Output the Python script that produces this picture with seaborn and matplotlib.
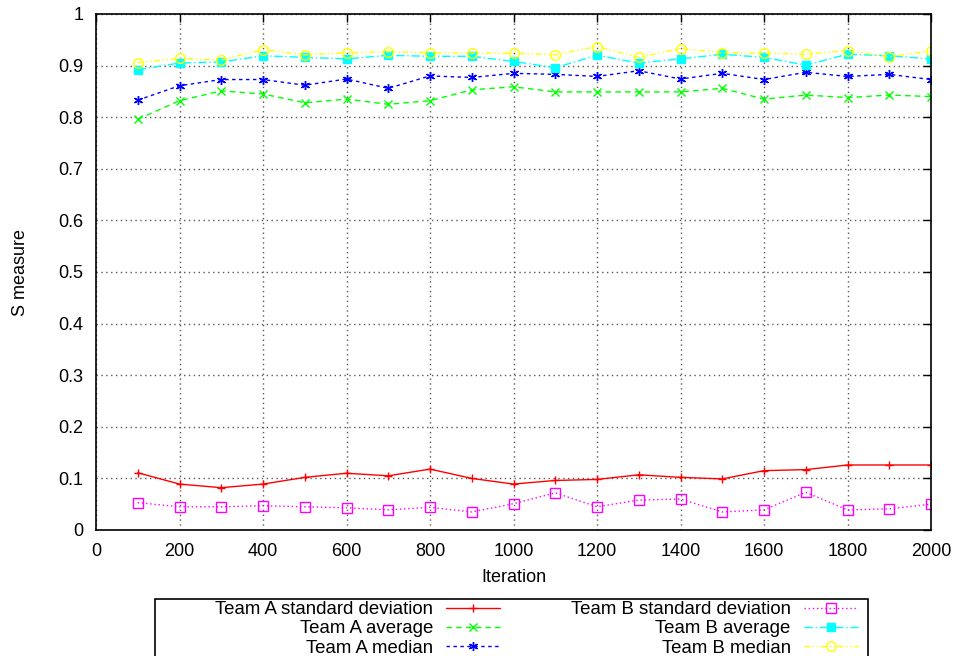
import numpy as np
import pandas as pd
import seaborn as sns
import matplotlib.pyplot as plt
from matplotlib.patches import Rectangle
from matplotlib.ticker import FuncFormatter

iterations = [100, 200, 300, 400, 500, 600, 700, 800, 900, 1000,
              1100, 1200, 1300, 1400, 1500, 1600, 1700, 1800, 1900, 2000]

a_std = [0.111, 0.089, 0.082, 0.089, 0.102, 0.110, 0.105, 0.118, 0.100, 0.089,
         0.096, 0.098, 0.107, 0.102, 0.099, 0.115, 0.117, 0.126, 0.126, 0.126]
a_avg = [0.796, 0.832, 0.851, 0.845, 0.828, 0.835, 0.825, 0.832, 0.853, 0.859,
         0.849, 0.849, 0.849, 0.849, 0.856, 0.835, 0.843, 0.838, 0.843, 0.840]
a_med = [0.833, 0.861, 0.873, 0.873, 0.862, 0.874, 0.856, 0.880, 0.877, 0.885,
         0.883, 0.879, 0.890, 0.874, 0.885, 0.873, 0.887, 0.879, 0.883, 0.873]
b_std = [0.053, 0.045, 0.045, 0.047, 0.045, 0.043, 0.039, 0.044, 0.035, 0.051,
         0.072, 0.045, 0.058, 0.060, 0.035, 0.039, 0.073, 0.039, 0.041, 0.050]
b_avg = [0.892, 0.905, 0.907, 0.919, 0.916, 0.913, 0.920, 0.918, 0.918, 0.908,
         0.896, 0.920, 0.905, 0.913, 0.922, 0.916, 0.901, 0.922, 0.919, 0.913]
b_med = [0.906, 0.914, 0.911, 0.931, 0.921, 0.925, 0.927, 0.925, 0.924, 0.924,
         0.921, 0.937, 0.916, 0.933, 0.925, 0.924, 0.922, 0.929, 0.917, 0.929]

labels = ["Team A standard deviation", "Team A average", "Team A median",
          "Team B standard deviation", "Team B average", "Team B median"]

sns.set_style("white")
plt.rcParams['font.family'] = ['Liberation Sans', 'DejaVu Sans']
plt.rcParams['font.size'] = 13
plt.rcParams['text.color'] = 'black'
plt.rcParams['axes.labelcolor'] = 'black'

fig = plt.figure(figsize=(9.56, 6.56), dpi=100)
ax = fig.add_axes([96 / 956, 1 - 530 / 656, (931 - 96) / 956, (530 - 14) / 656])

# values, colour, marker, marker size, linestyle, filled
styles = [
    (a_std, "#ff0000", "+", 6, "-", False),
    (a_avg, "#00ff00", "x", 6, (0, (4, 3)), False),
    (a_med, "#0000ff", (6, 2, 0), 6.5, (0, (2.5, 2.5)), False),
    (b_std, "#ff00ff", "s", 6.5, (0, (1, 2)), False),
    (b_avg, "#00ffff", "s", 6, (0, (6, 2, 1, 2)), True),
    (b_med, "#ffff00", "o", 7, (0, (4, 2, 1, 2, 1, 2)), False),
]

for lab, (vals, col, mk, ms, ls, filled) in zip(labels, styles):
    df = pd.DataFrame({"Iteration": iterations, "S": vals})
    face = col if filled else "none"
    sns.lineplot(data=df, x="Iteration", y="S", ax=ax, color=col, marker=mk,
                 markersize=ms, markerfacecolor=face, markeredgecolor=col,
                 markeredgewidth=1.0, linestyle=ls, linewidth=1.0, label=lab)

ax.set_xlim(0, 2000)
ax.set_ylim(0, 1)
ax.set_xticks(np.arange(0, 2001, 200))
ax.set_yticks(np.arange(0, 1.01, 0.1))
ax.yaxis.set_major_formatter(FuncFormatter(lambda v, p: f"{v:g}" if abs(v) > 1e-9 else "0"))
ax.tick_params(direction="in", length=6, width=1, top=True, right=True,
               labelsize=13, colors="black", pad=9)
for s in ax.spines.values():
    s.set_visible(True)
    s.set_color("black")
    s.set_linewidth(1.2)
ax.grid(True, linestyle=(0, (1, 2.5)), color="0.35", linewidth=1)
ax.set_axisbelow(True)
ax.set_xlabel("Iteration", fontsize=13, labelpad=7)
ax.set_ylabel("S measure", fontsize=13, labelpad=21)

handles, labs = ax.get_legend_handles_labels()
ax.legend_.remove()
leg = fig.legend(handles, labs, ncol=2, markerfirst=False, loc="upper left",
                 bbox_to_anchor=(215 / 956, 1 - 601 / 656), frameon=False,
                 fontsize=13.4, handlelength=2.9, labelspacing=0.12,
                 columnspacing=3.8, borderpad=0, borderaxespad=0,
                 handletextpad=0.7)
fig.add_artist(Rectangle((155 / 956, -0.01), 713 / 956, (656 - 599) / 656 + 0.01,
                         transform=fig.transFigure, fill=False,
                         edgecolor="black", linewidth=1.2, clip_on=False))

fig.savefig("out.png", dpi=100)
